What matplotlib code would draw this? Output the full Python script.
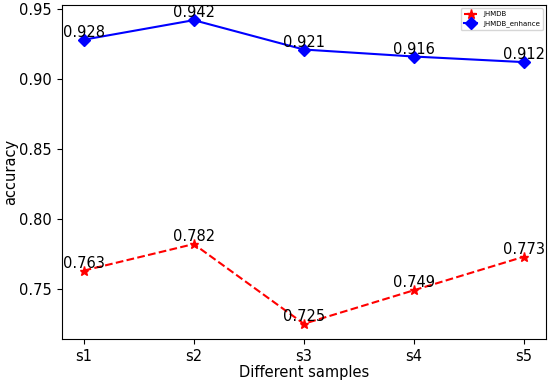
import numpy as np
import matplotlib
matplotlib.use('Agg')
import matplotlib.pyplot as plt

samples = ['s1', 's2', 's3', 's4', 's5']
jhmdb = [0.763, 0.782, 0.725, 0.749, 0.773]
jhmdb_enhance = [0.928, 0.942, 0.921, 0.916, 0.912]

x = np.arange(len(samples))

plt.rcParams['font.size'] = 10.5
plt.figure(figsize=(5.5, 3.82), dpi=100)
plt.plot(x, jhmdb, 'r*--', label='JHMDB', markersize=6.5)
plt.plot(x, jhmdb_enhance, 'bD-', label='JHMDB_enhance', markersize=6.5)

for a, b in zip(x, jhmdb):
    plt.text(a, b, '%.3f' % b, ha='center', va='bottom', fontsize=10.5)
for a, b in zip(x, jhmdb_enhance):
    plt.text(a, b, '%.3f' % b, ha='center', va='bottom', fontsize=10.5)

plt.xticks(x, samples)
plt.xlabel('Different samples', labelpad=1)
plt.ylabel('accuracy', labelpad=1)
plt.legend(loc='upper right', fontsize=5)
plt.subplots_adjust(left=0.112, right=0.993, top=0.987, bottom=0.1126)
plt.savefig('out.png', dpi=100)
